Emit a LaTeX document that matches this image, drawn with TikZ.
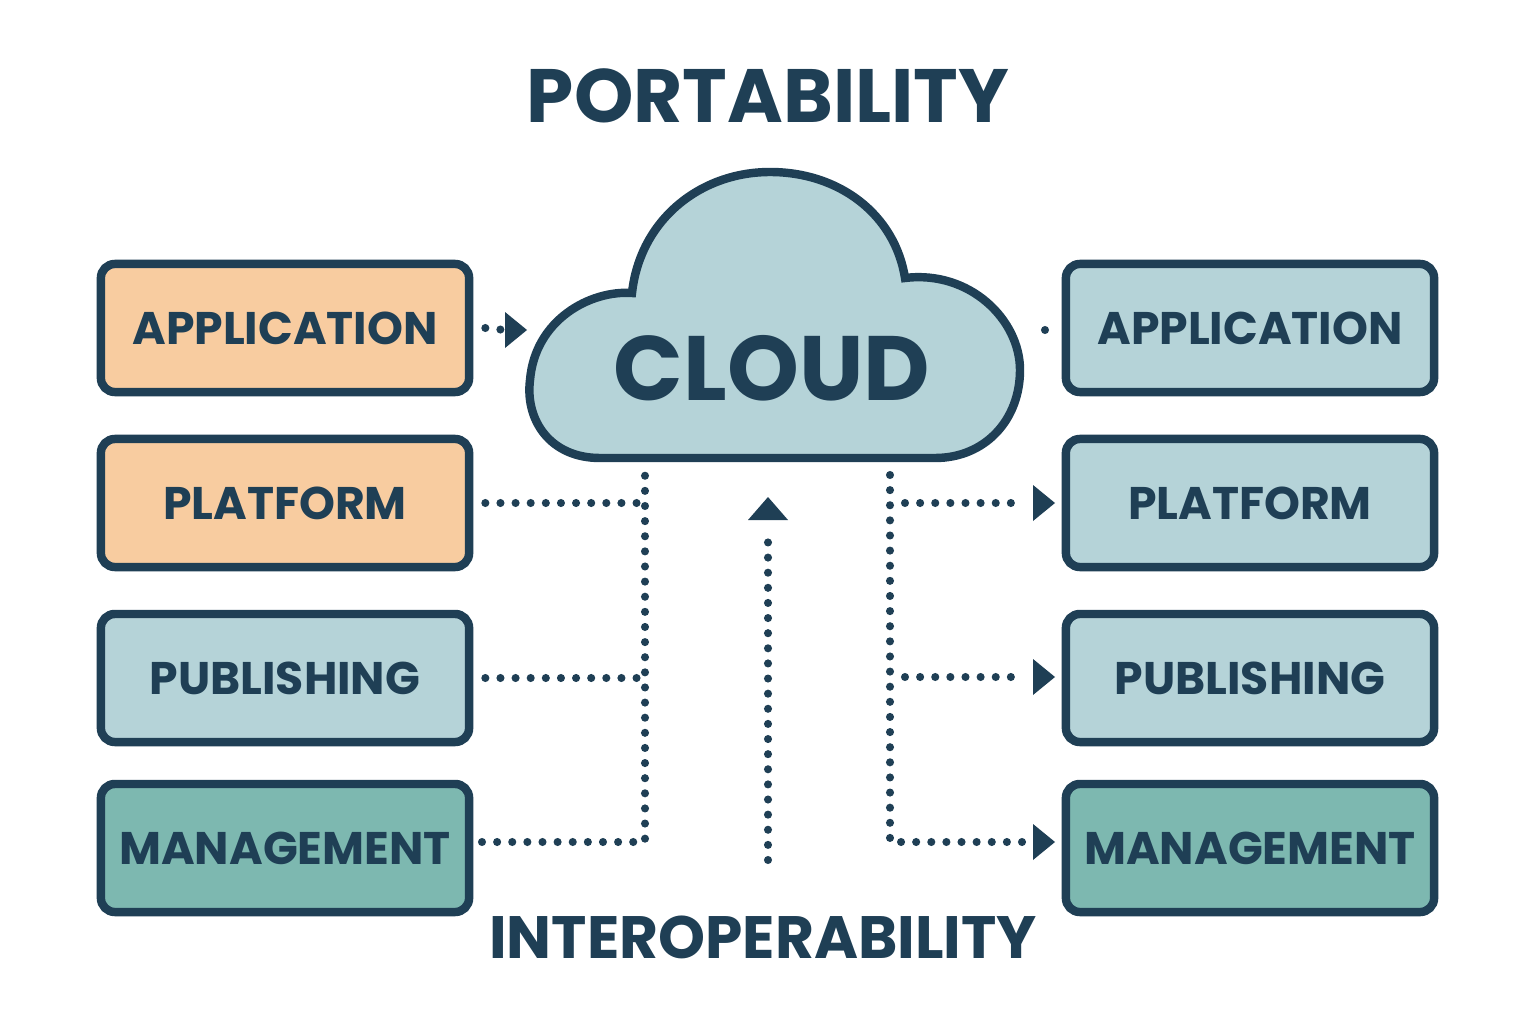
\documentclass[tikz,border=0pt]{standalone}
\usepackage{fontspec}
\setmainfont{Poppins}
\usetikzlibrary{arrows.meta}
\definecolor{ink}{HTML}{1F3F55}
\definecolor{peach}{HTML}{F8CCA0}
\definecolor{sky}{HTML}{B5D3D8}
\definecolor{teal}{HTML}{7DB8B0}
\tikzset{
	layer/.style={draw=ink, line width=2.4pt, rounded corners=0.14cm, inner sep=0pt, minimum width=3.68cm, minimum height=1.28cm, font=\fontsize{13}{16}\selectfont\bfseries, text=ink},
	dots/.style={ink, line width=2.3pt, line cap=round, dash pattern=on 0pt off 4.3pt}
}
\begin{document}
\begin{tikzpicture}[x=0.01cm,y=-0.01cm]
	\useasboundingbox (0,0) rectangle (1536,1024);
	% Titel
	\node[text=ink, font=\fontsize{21.5}{26}\selectfont\bfseries] (port) at (768,96) {PORTABILITY};
	\node[text=ink, font=\fontsize{17}{21}\selectfont\bfseries] (inter) at (763,937) {INTEROPERABILITY};
	% Wolke
	\draw[draw=ink, fill=sky, line width=2.4pt] (600,458) .. controls (550,458) and (525,420) .. (530,380) .. controls (535,320) and (590,290) .. (632,293) .. controls (640,220) and (700,172) .. (770,172) .. controls (840,172) and (895,215) .. (905,278) .. controls (970,270) and (1020,320) .. (1020,370) .. controls (1020,420) and (985,458) .. (935,458) -- cycle;
	\node[text=ink, font=\fontsize{26}{30}\selectfont\bfseries] (cloud) at (772,368) {CLOUD};
	% linke Spalte
	\node[layer, fill=peach] (lapp) at (285,328) {APPLICATION};
	\node[layer, fill=peach] (lplat) at (285,503) {PLATFORM};
	\node[layer, fill=sky] (lpub) at (285,678) {PUBLISHING};
	\node[layer, fill=teal] (lman) at (285,848) {MANAGEMENT};
	% rechte Spalte
	\node[layer, fill=sky] (rapp) at (1250,328) {APPLICATION};
	\node[layer, fill=sky] (rplat) at (1250,503) {PLATFORM};
	\node[layer, fill=sky] (rpub) at (1250,678) {PUBLISHING};
	\node[layer, fill=teal] (rman) at (1250,848) {MANAGEMENT};
	% Hilfspunkte
	\coordinate (lbus) at (645,475);
	\coordinate (rbus) at (890,475);
	\coordinate (up) at (768,860);
	%%%% links
	\draw[dots] ([xshift=0.12cm]lapp.east) -- (505,330);
	\fill[ink] (505,312) -- (527,330) -- (505,348) -- cycle;
	\draw[dots] ([xshift=0.12cm]lplat.east) -- (lbus |- lplat);
	\draw[dots] ([xshift=0.12cm]lpub.east) -- (lbus |- lpub);
	\draw[dots] (482,842) -- (645,842) -- (lbus);
	%%%% rechts
	\draw[dots] (1045,330) -- (1058,330);
	\draw[dots] (rbus) -- (890,842) -- (1025,842);
	\draw[dots] (905,503) -- (1025,503);
	\draw[dots] (905,677) -- (1025,677);
	\foreach \y in {503,677,842} {
		\fill[ink] (1033,\y-18) -- (1055,\y) -- (1033,\y+18) -- cycle;
	}
	%%%% Mitte
	\draw[dots] (up) -- (768,535);
	\fill[ink] (748,520) -- (768,497) -- (788,520) -- cycle;
\end{tikzpicture}
\end{document}
